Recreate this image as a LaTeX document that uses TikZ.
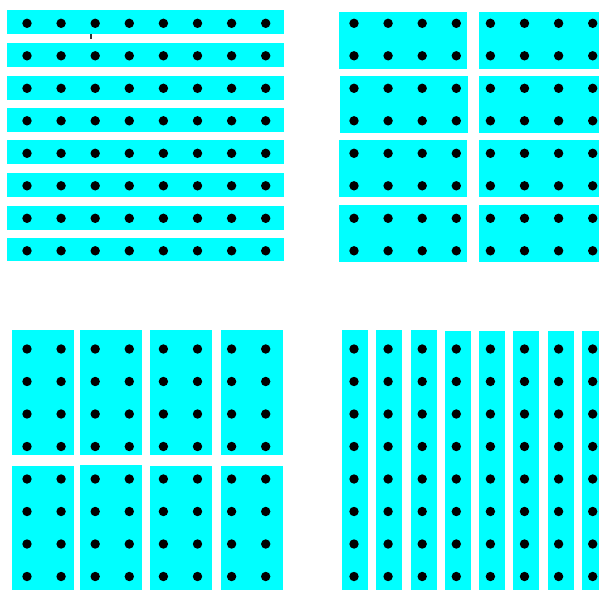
\documentclass[tikz,border=0pt]{standalone}
\usepackage{tikz}
\definecolor{blockcyan}{RGB}{0,255,255}
\tikzstyle{block}=[fill=blockcyan]
\tikzstyle{hole}=[fill=black]
\newcommand{\holeGrid}{
\foreach \i in {0,...,7}
  \foreach \j in {0,...,7}
    \fill[hole] ({27+34.1*\i},{23.3+32.5*\j}) circle (4.7);
}

\begin{document}
\begin{tikzpicture}[
x=1pt,y=-1pt
]
\useasboundingbox (0,0) rectangle (599,589);
\clip (0,0) rectangle (599,589);
%panel 1: one row per block
\foreach \t/\b in {10/33.7,43/66.7,76/99.7,108/131.7,140/163.7,173/196.7,206/229.7,238/261.3}
  \fill[block] (7,\t) rectangle (283.5,\b);
\holeGrid
\draw[line width=1.1pt,black!80] (91,33.8) -- (91,38.8);
%panel 2: blocks of 2x4
\foreach \l/\t in {339/12,340/76,339/140,339/205}
  \fill[block] (\l,\t) rectangle ++(128,57);
\foreach \t in {12,76,140,205}
  \fill[block] (479,\t) rectangle ++(128,57);
\begin{scope}[shift={(327,0)}]
\holeGrid
\end{scope}
%panel 3: blocks of 4x2
\foreach \l in {12,80,150,221}
  \fill[block] (\l,330) rectangle ++(62,125);
\foreach \l/\t in {12/466,80/465,150/466,221/466}
  \fill[block] (\l,\t) rectangle (\l+62,592);
\begin{scope}[shift={(0,325.7)}]
\holeGrid
\end{scope}
%panel 4: one column per block
\foreach \l/\t in {342/330,376/330,411/330,445/331,479/331,513/331,548/331,582/331}
  \fill[block] (\l,\t) rectangle (\l+26,592);
\begin{scope}[shift={(327,325.7)}]
\holeGrid
\end{scope}
\end{tikzpicture}
\end{document}
